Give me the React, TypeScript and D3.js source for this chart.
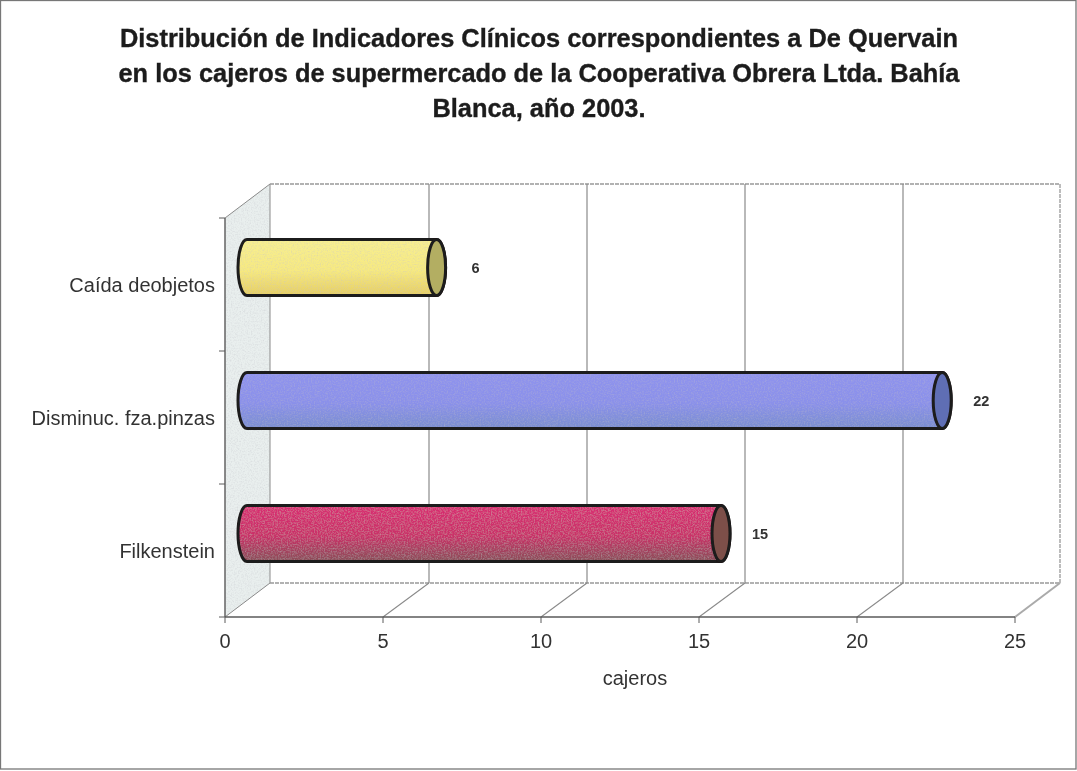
import React from "react";
import * as d3 from "d3";

const W = 1077, H = 771;
const titleLines = [
  "Distribución de Indicadores Clínicos correspondientes a De Quervain",
  "en los cajeros de supermercado de la Cooperativa Obrera Ltda. Bahía",
  "Blanca, año 2003.",
];
const categories = ["Caída deobjetos", "Disminuc. fza.pinzas", "Filkenstein"];
const values = [6, 22, 15];
const xTicks = [0, 5, 10, 15, 20, 25];
const bodyTop = ["#f8ef90", "#8f93ee", "#d92f72"];
const bodyMid = ["#f7ea80", "#8a90ea", "#c93068"];
const bodyBottom = ["#e6cf62", "#7a8ed0", "#8a4f58"];
const capFill = ["#b3ae62", "#5f6eb4", "#7d5048"];
const axisTitle = "cajeros";

const FONT = "'Liberation Sans', Arial, sans-serif";
const depthX = 45, depthY = 34;

export default function App() {
  const x = d3.scaleLinear().domain([0, 25]).range([225, 1015]);
  const y = d3.scaleBand<string>().domain(categories).range([218, 617]);
  const barOffsetX = 22, barOffsetY = -17, barH = 56, rx = 9;
  const top = 218, bottom = 617;
  const backBottom = bottom - depthY, backTop = top - depthY;
  const wall = `M${x(0)},${top} L${x(0) + depthX},${backTop} L${x(0) + depthX},${backBottom} L${x(0)},${bottom} Z`;
  const gridC = "#8a8a8a";
  const dark = "#5a5a5a";
  const bandTicks = [...categories.map((c) => y(c)!), bottom];

  return (
    <svg width={W} height={H} viewBox={`0 0 ${W} ${H}`}
      style={{ position: "absolute", left: 0, top: 0, display: "block", background: "#fff" }}>
      <defs>
        {categories.map((c, i) => (
          <linearGradient id={`g${i}`} key={c} x1="0" x2="0" y1="0" y2="1">
            <stop offset="0" stopColor={bodyTop[i]} />
            <stop offset="0.55" stopColor={bodyMid[i]} />
            <stop offset="1" stopColor={bodyBottom[i]} />
          </linearGradient>
        ))}
        <filter id="grain" x="0" y="0" width="100%" height="100%">
          <feTurbulence type="fractalNoise" baseFrequency="0.7" numOctaves="2" seed="4" result="n" />
          <feColorMatrix in="n" type="matrix" values="0 0 0 0 0.5  0 0 0 0 0.5  0 0 0 0 0.55  0 0 0 0.8 -0.33" result="d" />
          <feComposite in="d" in2="SourceAlpha" operator="in" result="dm" />
          <feMerge><feMergeNode in="SourceGraphic" /><feMergeNode in="dm" /></feMerge>
        </filter>
        <filter id="soft" x="-2%" y="-2%" width="104%" height="104%">
          <feGaussianBlur stdDeviation="0.5" />
        </filter>
      </defs>
      <rect x={0} y={0} width={W} height={H} fill="#fff" />
      <g filter="url(#soft)">
        <rect x={0.5} y={0.5} width={W - 1.5} height={H - 2.5} fill="none" stroke="#777" strokeWidth={1.3} />

        {titleLines.map((t, i) => (
          <text key={i} x={539} y={47 + i * 35} textAnchor="middle" fontFamily={FONT}
            fontWeight={700} fontSize={25.4} fill="#1c1c1c" stroke="#1c1c1c" strokeWidth={0.35}>{t}</text>
        ))}

        {/* side wall */}
        <path d={wall} fill="#e9efee" filter="url(#grain)" />
        <path d={wall} fill="none" stroke={gridC} strokeWidth={1} />
        {/* back wall outline */}
        <path d={`M${x(0) + depthX},${backTop} H${x(25) + depthX} V${backBottom} H${x(0) + depthX}`}
          fill="none" stroke="#999" strokeWidth={1.3} strokeDasharray="4 1" />
        {/* gridlines */}
        {xTicks.slice(1, -1).map((t) => (
          <g key={t}>
            <line x1={x(t) + depthX + 1} x2={x(t) + depthX + 1} y1={backTop} y2={backBottom} stroke={gridC} strokeWidth={1.2} />
            <line x1={x(t)} x2={x(t) + depthX + 1} y1={bottom} y2={backBottom} stroke={gridC} strokeWidth={1.1} />
          </g>
        ))}
        {/* floor right edge */}
        <line x1={x(25)} x2={x(25) + depthX} y1={bottom} y2={backBottom} stroke="#aaa" strokeWidth={2} />
        {/* axes */}
        <line x1={x(0)} x2={x(0)} y1={top} y2={bottom} stroke={dark} strokeWidth={1.1} />
        <line x1={x(0)} x2={x(25)} y1={bottom} y2={bottom} stroke={dark} strokeWidth={1.6} />
        {bandTicks.map((v, i) => (
          <line key={i} x1={x(0) - 6} x2={x(0)} y1={v} y2={v} stroke={dark} strokeWidth={1} />
        ))}
        {xTicks.map((t) => (
          <g key={t}>
            <line x1={x(t)} x2={x(t)} y1={bottom} y2={bottom + 6} stroke={dark} strokeWidth={1} />
            <text x={x(t)} y={648} textAnchor="middle" fontFamily={FONT} fontSize={20} fill="#333">{t}</text>
          </g>
        ))}

        {/* category labels */}
        {categories.map((c) => (
          <text key={c} x={215} y={y(c)! + y.bandwidth() / 2 + 7} textAnchor="end"
            fontFamily={FONT} fontSize={20} fill="#333">{c}</text>
        ))}

        {/* cylinders */}
        {categories.map((c, i) => {
          const cy = y(c)! + y.bandwidth() / 2 + barOffsetY;
          const x0 = x(0) + barOffsetX;
          const x1 = x(values[i]) + barOffsetX;
          const ry = barH / 2;
          const body = `M${x0},${cy - ry} L${x1},${cy - ry} A${rx},${ry} 0 0 1 ${x1},${cy + ry} L${x0},${cy + ry} A${rx},${ry} 0 0 1 ${x0},${cy - ry} Z`;
          return (
            <g key={c}>
              <path d={body} fill={`url(#g${i})`} filter="url(#grain)" />
              <path d={body} fill="none" stroke="#1d1a1a" strokeWidth={3} />
              <ellipse cx={x1} cy={cy} rx={rx} ry={ry} fill={capFill[i]} stroke="#1d1a1a" strokeWidth={3} />
              <text x={x1 + 39} y={cy + 5} textAnchor="middle" fontFamily={FONT}
                fontWeight={700} fontSize={14.5} fill="#333">{values[i]}</text>
            </g>
          );
        })}

        <text x={635} y={685} textAnchor="middle" fontFamily={FONT} fontSize={20} fill="#333">{axisTitle}</text>
      </g>
    </svg>
  );
}
